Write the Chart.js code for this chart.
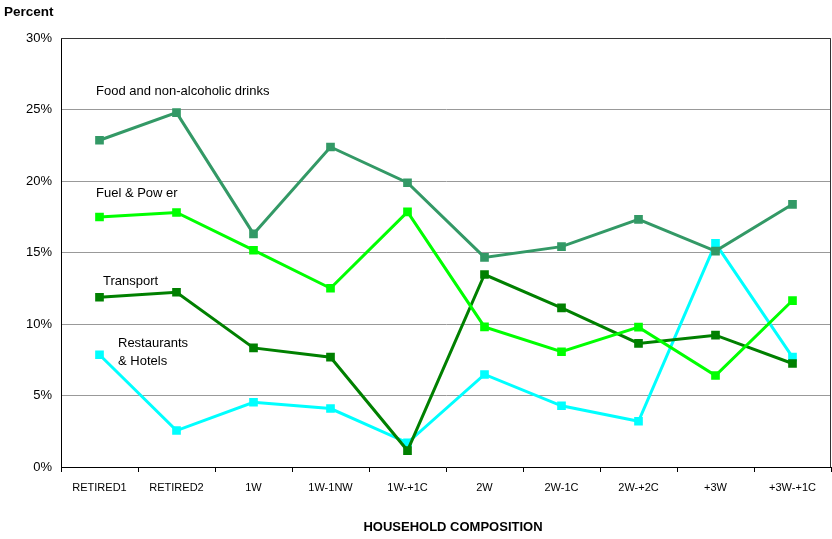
<!DOCTYPE html>
<html>
<head>
<meta charset="utf-8">
<script src="https://cdn.jsdelivr.net/npm/chart.js@4.4.0/dist/chart.umd.min.js"></script>
<style>
    html, body { margin: 0; padding: 0; background: #fff; overflow: hidden; }
    #wrap { width: 832px; height: 539px; position: relative; }
    canvas { display: block; }
</style>
</head>
<body>
<div id="wrap"><canvas id="householdChart"></canvas></div>
<script>
// categorii si valori (procente)
const categories = ['RETIRED1', 'RETIRED2', '1W', '1W-1NW', '1W-+1C', '2W', '2W-1C', '2W-+2C', '+3W', '+3W-+1C'];
const foodValues = [22.85, 24.78, 16.3, 22.38, 19.88, 14.66, 15.41, 17.32, 15.1, 18.37];
const fuelValues = [17.48, 17.8, 15.16, 12.5, 17.84, 9.8, 8.06, 9.78, 6.4, 11.64];
const transportValues = [11.87, 12.22, 8.33, 7.68, 1.15, 13.46, 11.13, 8.64, 9.22, 7.24];
const restaurantValues = [7.85, 2.55, 4.53, 4.09, 1.69, 6.47, 4.28, 3.2, 15.64, 7.68];
const yTicks = [0, 5, 10, 15, 20, 25, 30];

const seriesLabels = ['Food and non-alcoholic drinks', 'Fuel & Pow er', 'Transport', 'Restaurants & Hotels'];
const seriesColors = ['#339966', '#00FF00', '#008000', '#00FFFF'];

// etichete scrise direct pe grafic
const textLabels = [
    { text: 'Food and non-alcoholic drinks', x: 96, y: 91 },
    { text: 'Fuel & Pow er', x: 96, y: 193 },
    { text: 'Transport', x: 103, y: 281 },
    { text: 'Restaurants', x: 118, y: 343 },
    { text: '& Hotels', x: 118, y: 361 }
];

const textPlugin = {
    id: 'textLabels',
    beforeDatasetsDraw(chart) {
        // rama de sus si din dreapta
        const ctx = chart.ctx;
        const a = chart.chartArea;
        ctx.save();
        ctx.strokeStyle = '#333';
        ctx.lineWidth = 1;
        ctx.beginPath();
        ctx.moveTo(a.left, Math.round(a.top) + 0.5);
        ctx.lineTo(Math.round(a.right) - 0.5, Math.round(a.top) + 0.5);
        ctx.lineTo(Math.round(a.right) - 0.5, a.bottom);
        ctx.stroke();
        ctx.restore();
    },
    afterDraw(chart) {
        const ctx = chart.ctx;
        ctx.save();
        ctx.fillStyle = '#000';
        ctx.textBaseline = 'middle';
        ctx.textAlign = 'left';
        ctx.font = '13px "Liberation Sans", Arial, sans-serif';
        textLabels.forEach(l => ctx.fillText(l.text, l.x, l.y));

        ctx.font = 'bold 13.5px "Liberation Sans", Arial, sans-serif';
        ctx.fillText('Percent', 4, 12);

        ctx.textAlign = 'center';
        ctx.font = 'bold 13px "Liberation Sans", Arial, sans-serif';
        ctx.fillText('HOUSEHOLD COMPOSITION', 453, 527);
        ctx.restore();
    }
};

function makeDataset(label, values, color) {
    return {
        label: label,
        data: values,
        borderColor: color,
        backgroundColor: color,
        borderWidth: 3,
        pointStyle: 'rect',
        pointRadius: 4,
        pointHoverRadius: 4,
        tension: 0,
        fill: false
    };
}

document.addEventListener('DOMContentLoaded', function() {
    const ctx = document.getElementById('householdChart').getContext('2d');
    const allValues = [foodValues, fuelValues, transportValues, restaurantValues];

    new Chart(ctx, {
        type: 'line',
        data: {
            labels: categories,
            datasets: allValues.map((v, i) => makeDataset(seriesLabels[i], v, seriesColors[i]))
        },
        options: {
            responsive: true,
            maintainAspectRatio: false,
            animation: false,
            layout: { autoPadding: false, padding: { top: 38, right: 1, left: 0, bottom: 0 } },
            plugins: {
                legend: { display: false },
                tooltip: { enabled: false }
            },
            scales: {
                x: {
                    offset: true,
                    afterFit: s => {
                        s.height = 72;
                        s.paddingLeft = 0;
                        s.paddingRight = 0;
                    },
                    grid: {
                        offset: true,
                        drawOnChartArea: false,
                        drawTicks: true,
                        tickLength: 5,
                        color: '#000'
                    },
                    border: { color: '#000', width: 1 },
                    ticks: {
                        color: '#000',
                        padding: 9,
                        maxRotation: 0,
                        autoSkip: false,
                        font: { family: '"Liberation Sans", Arial, sans-serif', size: 11 }
                    }
                },
                y: {
                    min: 0,
                    max: 30,
                    afterFit: s => { s.width = 61; },
                    afterBuildTicks: s => { s.ticks = yTicks.map(v => ({ value: v })); },
                    grid: {
                        color: '#999',
                        drawTicks: false
                    },
                    border: { color: '#000', width: 1 },
                    ticks: {
                        color: '#000',
                        padding: 9,
                        font: { family: '"Liberation Sans", Arial, sans-serif', size: 13 },
                        callback: v => v + '%'
                    }
                }
            }
        },
        plugins: [textPlugin]
    });
});
</script>
</body>
</html>
